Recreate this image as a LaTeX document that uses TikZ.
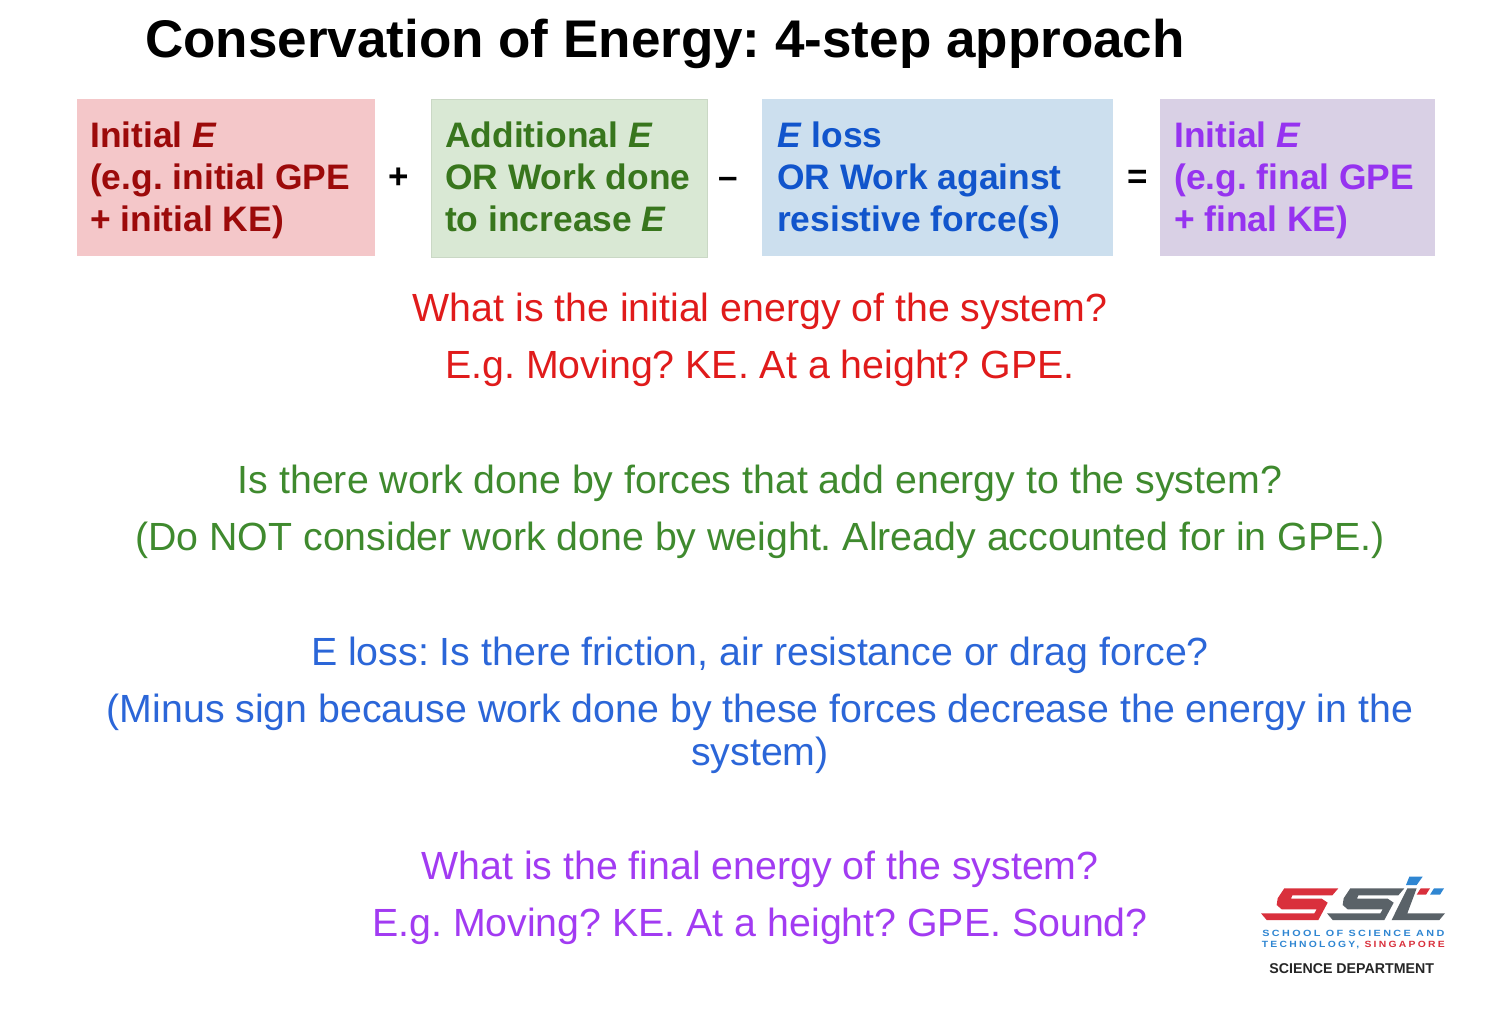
\documentclass[tikz,border=0pt]{standalone}
\usepackage{fontspec}
\setmainfont{Liberation Sans}
\frenchspacing
\definecolor{dred}{HTML}{9C0A0A}
\definecolor{dgreen}{HTML}{38761D}
\definecolor{dblue}{HTML}{1155CC}
\definecolor{dpurple}{HTML}{9633F0}
\definecolor{lred}{HTML}{F4C7C9}
\definecolor{lgreen}{HTML}{D9E8D4}
\definecolor{lblue}{HTML}{CCDFEE}
\definecolor{lpurple}{HTML}{D9D0E5}
\definecolor{tred}{HTML}{E01B1B}
\definecolor{tgreen}{HTML}{3F8A2E}
\definecolor{tblue}{HTML}{2B66D8}
\definecolor{tpurple}{HTML}{A23BF2}
\definecolor{lgred}{HTML}{D9303C}
\definecolor{lggray}{HTML}{5A6268}
\definecolor{lgblue}{HTML}{2F86D2}
\tikzset{
 bx/.style={draw=none,inner sep=0pt,minimum height=157pt,anchor=north west},
 boxtext/.style={anchor=base west,inner sep=0pt,font=\fontsize{35.4}{35.4}\selectfont\bfseries},
 op/.style={anchor=base,inner sep=0pt,font=\fontsize{35}{35}\selectfont\bfseries},
 body/.style={anchor=base,inner sep=0pt,font=\fontsize{39.3}{39.3}\selectfont},
}
\newcommand{\itE}{\textit{E}}
\newcommand{\logoS}{(88,55) -- (250,55) -- (232,76) -- (112,76) -- (108,86) -- (200,86) -- (218,98) -- (190,150) -- (35,150) -- (18,130) -- (178,130) -- (185,118) -- (80,118) -- (65,105) -- (68,85) -- cycle}
\begin{document}
\begin{tikzpicture}[x=1pt,y=-1pt]
\useasboundingbox (0,0) rectangle (1488,1014);
\fill[white] (0,0) rectangle (1488,1014);
\node[anchor=base west,inner sep=0pt,font=\fontsize{53}{53}\selectfont\bfseries] (title) at (145,58) {Conservation of Energy: 4-step approach};
\node[bx,fill=lred,minimum width=298pt] (b1) at (77,99) {};
\node[bx,fill=lgreen,minimum width=276pt,minimum height=158pt,draw=lgreen!93!black,line width=.5pt] (b2) at (431,99) {};
\node[bx,fill=lblue,minimum width=351pt] (b3) at (762,99) {};
\node[bx,fill=lpurple,minimum width=275pt] (b4) at (1160,99) {};
\begin{scope}[every node/.append style={text=dred}]
\node[boxtext] (a1) at (90,147) {Initial \itE};
\node[boxtext] (a2) at (90,189) {(e.g. initial GPE};
\node[boxtext] (a3) at (90,231) {+ initial KE)};
\end{scope}
\begin{scope}[every node/.append style={text=dgreen}]
\node[boxtext] (c1) at (445,147) {Additional \itE};
\node[boxtext] (c2) at (445,189) {OR Work done};
\node[boxtext] (c3) at (445,231) {to increase \itE};
\end{scope}
\begin{scope}[every node/.append style={text=dblue}]
\node[boxtext] (d1) at (777,147) {\itE{} loss};
\node[boxtext] (d2) at (777,189) {OR Work against};
\node[boxtext] (d3) at (777,231) {resistive force(s)};
\end{scope}
\begin{scope}[every node/.append style={text=dpurple}]
\node[boxtext] (e1) at (1174,147) {Initial \itE};
\node[boxtext] (e2) at (1174,189) {(e.g. final GPE};
\node[boxtext] (e3) at (1174,231) {+ final KE)};
\end{scope}
\node[op] (plus) at (398.5,188) {+};
\node[op] (minus) at (728,188) {–};
\node[op] (eq) at (1137.5,188) {=};
\node[body,text=tred] (t1) at (760,321) {What is the initial energy of the system?};
\node[body,text=tred] (t2) at (760,378) {E.g. Moving? KE. At a height? GPE.};
\node[body,text=tgreen] (t3) at (760,493) {Is there work done by forces that add energy to the system?};
\node[body,text=tgreen] (t4) at (760,550) {(Do NOT consider work done by weight. Already accounted for in GPE.)};
\node[body,text=tblue] (t5) at (760,665) {E loss: Is there friction, air resistance or drag force?};
\node[body,text=tblue] (t6) at (760,722) {(Minus sign because work done by these forces decrease the energy in the};
\node[body,text=tblue] (t7) at (760,765) {system)};
\node[body,text=tpurple] (t8) at (760,879) {What is the final energy of the system?};
\node[body,text=tpurple] (t9) at (760,936) {E.g. Moving? KE. At a height? GPE. Sound?};
% logo
\begin{scope}[shift={(1255,870)},x=0.3333pt,y=-0.3333pt]
\fill[lgred] \logoS;
\end{scope}
\begin{scope}[shift={(1321,870)},x=0.3333pt,y=-0.3333pt]
\fill[lggray] \logoS;
\end{scope}
\begin{scope}[shift={(1350,870)},x=0.3333pt,y=-0.3333pt]
\fill[lggray] (172,55) -- (200,55) -- (172,130) -- (285,130) -- (268,150) -- (125,150) -- (152,95) -- cycle;
\fill[lgblue] (178,20) -- (218,20) -- (200,45) -- (168,45) -- cycle;
\fill[lgred] (212,55) -- (240,55) -- (228,74) -- (200,74) -- cycle;
\fill[lgblue] (252,55) -- (282,55) -- (270,74) -- (240,74) -- cycle;
\end{scope}
\begin{scope}[shift={(1240,860)},x=0.3333pt,y=-0.3333pt]
\node[anchor=base,inner sep=0pt,text=lgblue,xscale=1.2,font=\fontsize{9}{9}\selectfont\bfseries] (l1) at (340,230) {\addfontfeature{LetterSpace=22}SCHOOL OF SCIENCE AND};
\node[anchor=base,inner sep=0pt,xscale=1.15,font=\fontsize{9}{9}\selectfont\bfseries] (l2) at (340,263) {\addfontfeature{LetterSpace=22}\textcolor{lgblue}{TECHNOLOGY,} \textcolor{lgred}{SINGAPORE}};
\node[anchor=base,inner sep=0pt,text=black!85,font=\fontsize{14.2}{14.2}\selectfont\bfseries] (l3) at (335,340) {SCIENCE DEPARTMENT};
\end{scope}
\end{tikzpicture}
\end{document}
